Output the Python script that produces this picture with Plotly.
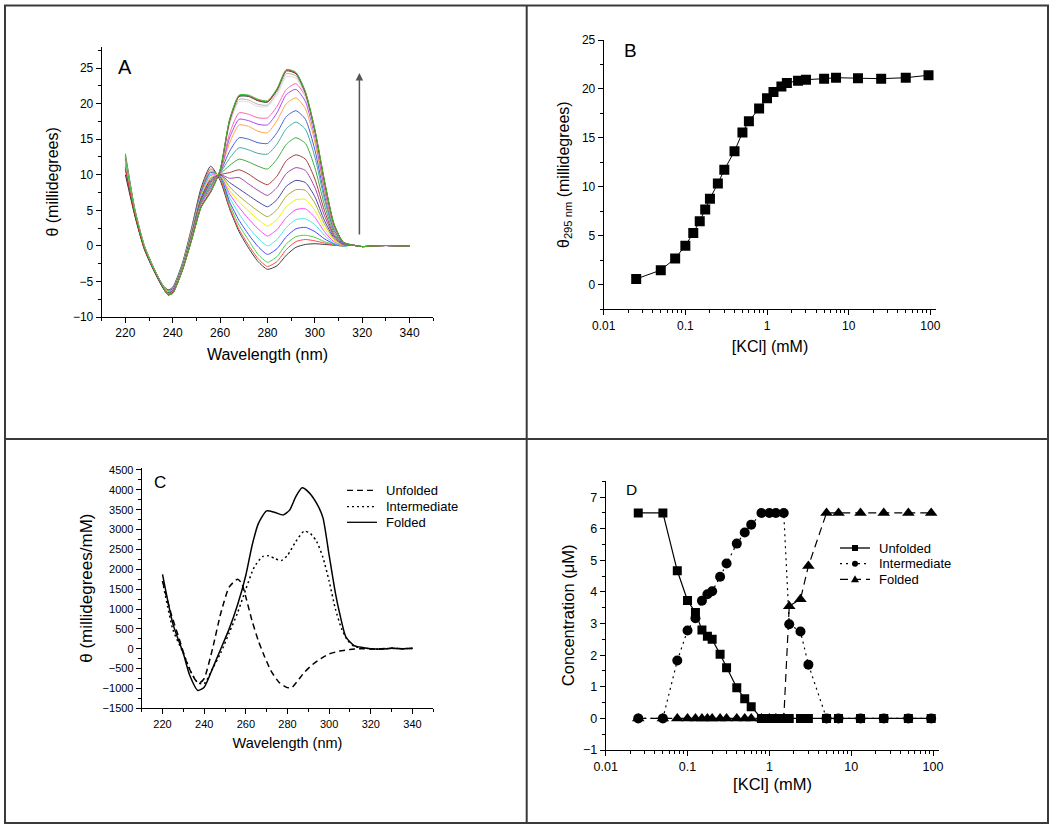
"""
CD titration figure: spectra (A, C) and KCl dependence (B, D)
"""

import plotly.graph_objects as go
from plotly.subplots import make_subplots

# ---- Panel A: CD spectra over the KCl titration ----
wl_a = [220, 224, 228, 232, 236, 238, 240, 244, 248, 252, 256, 260, 264,
        268, 272, 276, 280, 284, 288, 292, 296, 300, 304, 308, 312]
wl_a_tail = [316, 320, 325, 330, 335, 340]
theta_a_tail = [0.1, -0.1, 0.0, 0.05, 0.0, 0.0]

spectra_a = [
    [12.5, 5.0, 0.0, -3.2, -5.6, -6.2, -5.8, -2.5, 2.6, 8.2, 11.2, 9.2, 5.2, 2.0, -0.3, -2.2, -3.3, -2.8, -1.3, -0.2, 0.2, 0.3, 0.2, 0.1, 0.0],
    [12.2, 4.8, -0.2, -3.3, -5.8, -6.4, -6.0, -2.7, 2.4, 7.8, 10.8, 9.5, 5.4, 2.3, 0.1, -1.8, -2.9, -2.2, -0.5, 0.6, 0.9, 0.7, 0.4, 0.1, 0.0],
    [13.0, 5.2, 0.1, -3.1, -5.7, -6.3, -5.9, -2.6, 2.3, 7.6, 10.5, 9.7, 5.8, 2.9, 0.8, -1.2, -2.3, -1.5, 0.3, 1.3, 1.5, 1.2, 0.6, 0.2, 0.0],
    [11.0, 4.5, -0.3, -3.4, -5.9, -6.5, -6.0, -2.8, 2.2, 7.5, 10.3, 9.8, 6.2, 3.6, 1.6, -0.1, -1.2, -0.4, 1.3, 2.4, 2.6, 2.0, 1.0, 0.3, 0.0],
    [10.5, 4.3, -0.4, -3.4, -5.9, -6.6, -6.1, -2.9, 2.1, 7.3, 10.1, 9.9, 6.8, 4.5, 2.6, 1.1, 0.0, 0.9, 2.6, 3.7, 3.8, 3.0, 1.5, 0.4, 0.0],
    [11.5, 4.6, -0.2, -3.3, -5.8, -6.5, -6.1, -2.9, 2.0, 7.1, 9.9, 9.9, 7.3, 5.4, 3.8, 2.4, 1.4, 2.3, 4.0, 5.1, 5.2, 4.0, 2.0, 0.6, 0.1],
    [11.8, 4.7, -0.2, -3.3, -5.8, -6.5, -6.2, -3.0, 1.9, 7.0, 9.7, 10.0, 7.8, 6.2, 4.9, 3.7, 2.8, 3.7, 5.5, 6.5, 6.5, 5.0, 2.5, 0.8, 0.1],
    [12.0, 4.8, -0.1, -3.2, -5.8, -6.6, -6.2, -3.0, 1.8, 6.8, 9.5, 10.0, 8.3, 7.0, 5.9, 4.9, 4.1, 5.1, 7.0, 7.9, 7.8, 6.0, 3.1, 1.0, 0.1],
    [11.2, 4.5, -0.3, -3.3, -5.9, -6.6, -6.3, -3.1, 1.7, 6.7, 9.3, 10.0, 8.9, 8.0, 7.1, 6.2, 5.5, 6.5, 8.4, 9.2, 8.9, 6.9, 3.6, 1.2, 0.2],
    [11.6, 4.6, -0.2, -3.3, -5.9, -6.7, -6.3, -3.1, 1.6, 6.6, 9.1, 10.0, 9.5, 9.6, 8.7, 7.8, 7.1, 8.2, 10.2, 11.0, 10.6, 8.2, 4.3, 1.4, 0.2],
    [12.3, 4.9, -0.1, -3.2, -5.8, -6.7, -6.4, -3.2, 1.5, 6.4, 8.9, 10.0, 10.3, 10.7, 10.1, 9.2, 8.6, 9.8, 12.0, 12.8, 12.2, 9.4, 5.0, 1.6, 0.3],
    [12.8, 5.1, 0.0, -3.1, -5.8, -6.7, -6.4, -3.2, 1.4, 6.3, 8.7, 10.1, 11.3, 12.2, 11.8, 11.2, 10.8, 12.2, 14.3, 15.2, 14.4, 11.0, 5.8, 1.9, 0.3],
    [11.4, 4.6, -0.2, -3.3, -5.9, -6.8, -6.5, -3.3, 1.3, 6.2, 8.5, 10.2, 12.3, 13.8, 13.5, 13.0, 12.9, 14.3, 16.5, 17.4, 16.4, 12.5, 6.6, 2.2, 0.4],
    [11.0, 4.5, -0.3, -3.4, -5.9, -6.8, -6.5, -3.3, 1.2, 6.0, 8.3, 10.3, 13.3, 15.2, 15.0, 14.5, 14.4, 15.9, 18.2, 19.0, 17.8, 13.5, 7.2, 2.4, 0.4],
    [11.9, 4.8, -0.1, -3.3, -5.8, -6.8, -6.5, -3.3, 1.2, 5.9, 8.1, 10.4, 14.5, 17.0, 16.8, 16.1, 15.9, 17.6, 20.0, 20.8, 19.3, 14.6, 7.8, 2.6, 0.5],
    [12.1, 4.8, -0.1, -3.2, -5.8, -6.8, -6.6, -3.4, 1.1, 5.8, 8.0, 10.4, 15.2, 17.8, 17.6, 17.1, 17.0, 18.7, 21.3, 22.0, 20.3, 15.3, 8.2, 2.8, 0.5],
    [12.6, 5.0, 0.0, -3.2, -5.8, -6.8, -6.6, -3.4, 1.0, 5.7, 7.9, 10.5, 15.8, 18.7, 18.5, 18.0, 18.0, 19.6, 22.0, 22.8, 21.0, 15.8, 8.5, 2.9, 0.5],
    [12.0, 4.8, -0.1, -3.3, -5.8, -6.9, -6.6, -3.4, 1.0, 5.6, 7.8, 10.6, 17.0, 20.3, 20.2, 19.6, 19.6, 21.2, 23.8, 23.6, 21.0, 15.8, 8.9, 3.0, 0.5],
    [11.5, 4.7, -0.2, -3.3, -5.9, -6.9, -6.6, -3.4, 1.0, 5.6, 7.7, 10.6, 17.3, 20.6, 20.5, 19.9, 19.8, 21.6, 24.2, 23.9, 21.3, 16.0, 9.0, 3.0, 0.5],
    [10.0, 4.2, -0.5, -3.5, -6.0, -6.9, -6.6, -3.5, 0.9, 5.5, 7.6, 10.6, 17.6, 21.0, 21.0, 20.4, 20.2, 21.9, 24.6, 24.2, 21.5, 16.2, 9.1, 3.1, 0.5],
    [10.8, 4.4, -0.4, -3.4, -5.9, -6.9, -6.6, -3.5, 0.9, 5.5, 7.6, 10.7, 17.7, 21.1, 21.1, 20.5, 20.3, 22.0, 24.7, 24.3, 21.6, 16.3, 9.2, 3.1, 0.5],
    [12.2, 4.9, -0.1, -3.3, -5.8, -6.9, -6.7, -3.5, 0.8, 5.4, 7.5, 10.7, 17.8, 21.2, 21.2, 20.6, 20.4, 22.1, 24.8, 24.4, 21.7, 16.4, 9.3, 3.2, 0.5],
]

colors_a = ['#3c3c3c', '#ff4646', '#46d246', '#4646ff', '#46e6e6', '#ff46ff',
            '#f0f000', '#a8a838', '#4646a8', '#a846a8', '#a83c3c', '#46a846',
            '#46a8a8', '#4664d2', '#ffa446', '#a846ff', '#ff64b4', '#dcdcdc',
            '#b4b4b4', '#303030', '#e03030', '#30c030']

# ---- Panel B: ellipticity at 295 nm vs KCl ----
kcl = [0.025, 0.05, 0.075, 0.1, 0.125, 0.15, 0.175, 0.2, 0.25, 0.3, 0.4, 0.5,
       0.6, 0.8, 1.0, 1.2, 1.5, 1.75, 2.4, 3.0, 5.0, 7.0, 13.0, 25.0, 50.0, 95.0]
theta_295 = [0.6, 1.5, 2.7, 4.0, 5.3, 6.5, 7.7, 8.8, 10.35, 11.75, 13.65, 15.55,
             16.7, 18.0, 19.05, 19.7, 20.25, 20.6, 20.85, 20.95, 21.05, 21.15,
             21.1, 21.05, 21.15, 21.4]

# ---- Panel C: basis spectra (millidegrees/mM) ----
wl_c_folded = [220, 225, 230, 233, 237, 240, 244, 248, 252, 256, 260, 263, 266,
               270, 274, 278, 281, 284, 287, 290, 294, 297, 300, 303, 305, 308,
               312, 316, 320, 325, 330, 335, 340]
folded_c = [1870, 620, -120, -660, -1050, -970, -500, 0, 500, 1100, 1850, 2600,
            3150, 3470, 3430, 3370, 3490, 3830, 4050, 3950, 3660, 3300, 2350,
            1400, 900, 300, 80, 30, 0, -10, 10, 0, 10]
wl_c_inter = [220, 225, 230, 234, 237, 240, 244, 248, 252, 256, 260, 264, 268,
              271, 274, 277, 280, 284, 288, 291, 294, 297, 300, 303, 306, 309,
              312, 316, 320, 325, 330, 335, 340]
intermediate_c = [1700, 480, -120, -620, -860, -880, -500, -100, 400, 900, 1500,
                  2050, 2320, 2340, 2270, 2220, 2350, 2700, 2960, 2900, 2700,
                  2300, 1700, 1000, 500, 200, 60, 20, 0, -10, 10, 0, 10]
wl_c_unfolded = [220, 224, 228, 232, 236, 238, 240, 244, 248, 252, 256, 258, 260,
                 263, 266, 269, 272, 276, 280, 282, 285, 288, 292, 296, 300, 305,
                 310, 315, 320, 325, 330, 335, 340]
unfolded_c = [1700, 900, 250, -400, -800, -850, -750, 0, 900, 1550, 1750, 1650,
              1300, 700, 200, -200, -550, -850, -980, -980, -800, -600, -400,
              -250, -130, -60, -20, 0, -10, 0, 10, 0, 5]

# ---- Panel D: species concentrations (uM) vs KCl ----
conc_unfolded = [6.5, 6.5, 4.67, 3.73, 3.35, 2.8, 2.6, 2.5, 2.03, 1.6, 0.97,
                 0.62, 0.37, 0, 0, 0, 0, 0, 0, 0, 0, 0, 0, 0, 0, 0]
conc_intermediate = [0, 0, 1.83, 2.78, 3.17, 3.72, 3.93, 4.02, 4.48, 4.9, 5.53,
                     5.88, 6.13, 6.5, 6.5, 6.5, 6.5, 2.98, 2.75, 1.7, 0, 0, 0,
                     0, 0, 0]
conc_folded = [0, 0, 0, 0, 0, 0, 0, 0, 0, 0, 0, 0, 0, 0, 0, 0, 0, 3.55, 3.77,
               4.82, 6.5, 6.5, 6.5, 6.5, 6.5, 6.5]

species = ['Unfolded', 'Intermediate', 'Folded']

FONT = 'Liberation Sans, Arial, sans-serif'
W, H = 1050, 830
DASH_C = {'Unfolded': '6px,4px', 'Intermediate': '2px,3px', 'Folded': 'solid'}
DASH_D = {'Unfolded': 'solid', 'Intermediate': '2px,4px', 'Folded': '8px,5px'}

fig = make_subplots(rows=2, cols=2)

# A
for vals, col in zip(spectra_a, colors_a):
    fig.add_trace(
        go.Scatter(
            x=wl_a + wl_a_tail,
            y=vals + theta_a_tail,
            mode='lines',
            line=dict(color=col, width=1, shape='spline', smoothing=0.6),
            showlegend=False
        ),
        row=1, col=1
    )

# B
fig.add_trace(
    go.Scatter(
        x=kcl, y=theta_295,
        mode='lines+markers',
        line=dict(color='black', width=1),
        marker=dict(symbol='square', size=10, color='black'),
        showlegend=False
    ),
    row=1, col=2
)

# C
for name, xs, ys in zip(species,
                        [wl_c_unfolded, wl_c_inter, wl_c_folded],
                        [unfolded_c, intermediate_c, folded_c]):
    fig.add_trace(
        go.Scatter(
            x=xs, y=ys, name=name,
            mode='lines',
            line=dict(color='black', width=1.5, dash=DASH_C[name], shape='spline', smoothing=0.6),
            showlegend=False
        ),
        row=2, col=1
    )

# D  (folded first so squares and circles sit on top of it)
for name, ys, sym, size in [('Folded', conc_folded, 'triangle-up', 11),
                            ('Unfolded', conc_unfolded, 'square', 9),
                            ('Intermediate', conc_intermediate, 'circle', 10)]:
    fig.add_trace(
        go.Scatter(
            x=kcl, y=ys, name=name,
            mode='lines+markers',
            line=dict(color='black', width=1.2, dash=DASH_D[name]),
            marker=dict(symbol=sym, size=size, color='black'),
            showlegend=False
        ),
        row=2, col=2
    )


def px_x(a, b):
    return [a / W, b / W]


def px_y(top, bottom):
    return [1 - bottom / H, 1 - top / H]


axis_common = dict(
    showline=True, linecolor='black', linewidth=1,
    ticks='outside', ticklen=5, tickcolor='black', tickwidth=1,
    showgrid=False, zeroline=False, mirror=False, automargin=False,
    tickfont=dict(family=FONT, size=12, color='black'),
)

log_minor = [m * 10 ** e for e in range(-2, 3) for m in range(2, 10)]
log_minor = [v for v in log_minor if v < 118]

# A axes
fig.update_xaxes(axis_common, domain=px_x(101.7, 433.3), range=[210, 350],
                 tickmode='array', tickvals=[220, 240, 260, 280, 300, 320, 340],
                 minor=dict(tickmode='array', tickvals=[210, 230, 250, 270, 290, 310, 330, 350],
                            ticks='outside', ticklen=3, tickcolor='black'),
                 title=dict(text='Wavelength (nm)', font=dict(family=FONT, size=16, color='black'), standoff=9),
                 row=1, col=1)
fig.update_yaxes(axis_common, domain=px_y(46.7, 317), range=[-10, 28],
                 tickmode='array', tickvals=[-10, -5, 0, 5, 10, 15, 20, 25],
                 minor=dict(tickmode='array', tickvals=[-7.5, -2.5, 2.5, 7.5, 12.5, 17.5, 22.5, 27.5],
                            ticks='outside', ticklen=3, tickcolor='black'),
                 title=dict(text='θ (millidegrees)', font=dict(family=FONT, size=16, color='black'), standoff=10),
                 row=1, col=1)

# B axes
fig.update_xaxes(axis_common, type='log', domain=px_x(603.7, 936.3), range=[-2, 2.073],
                 tickmode='array', tickvals=[0.01, 0.1, 1, 10, 100],
                 ticktext=['0.01', '0.1', '1', '10', '100'],
                 minor=dict(tickmode='array', tickvals=log_minor, ticks='outside', ticklen=3, tickcolor='black'),
                 title=dict(text='[KCl] (mM)', font=dict(family=FONT, size=16, color='black'), standoff=9),
                 row=1, col=2)
fig.update_yaxes(axis_common, domain=px_y(40, 309.3), range=[-2.5, 25],
                 tickmode='array', tickvals=[0, 5, 10, 15, 20, 25],
                 minor=dict(tickmode='array', tickvals=[-2.5, 2.5, 7.5, 12.5, 17.5, 22.5],
                            ticks='outside', ticklen=3, tickcolor='black'),
                 title=dict(text='θ<sub>295 nm</sub> (millidegrees)',
                            font=dict(family=FONT, size=16, color='black'), standoff=8),
                 row=1, col=2)

# C axes
fig.update_xaxes(axis_common, domain=px_x(141.7, 433.3), range=[210, 350],
                 tickmode='array', tickvals=[220, 240, 260, 280, 300, 320, 340],
                 minor=dict(tickmode='array', tickvals=[210, 230, 250, 270, 290, 310, 330, 350],
                            ticks='outside', ticklen=3, tickcolor='black'),
                 tickfont=dict(family=FONT, size=11, color='black'),
                 title=dict(text='Wavelength (nm)', font=dict(family=FONT, size=14.5, color='black'), standoff=9),
                 row=2, col=1)
fig.update_yaxes(axis_common, domain=px_y(468, 708.3), range=[-1500, 4550],
                 tickmode='array', tickvals=list(range(-1500, 4501, 500)),
                 minor=dict(tickmode='array', tickvals=list(range(-1250, 4500, 500)),
                            ticks='outside', ticklen=3, tickcolor='black'),
                 tickfont=dict(family=FONT, size=11, color='black'),
                 title=dict(text='θ (millidegrees/mM)', font=dict(family=FONT, size=17, color='black'), standoff=5),
                 row=2, col=1)

# D axes
fig.update_xaxes(axis_common, type='log', domain=px_x(605.7, 939.3), range=[-2, 2.077],
                 tickmode='array', tickvals=[0.01, 0.1, 1, 10, 100],
                 ticktext=['0.01', '0.1', '1', '10', '100'],
                 minor=dict(tickmode='array', tickvals=log_minor, ticks='outside', ticklen=3, tickcolor='black'),
                 tickfont=dict(family=FONT, size=12.5, color='black'),
                 title=dict(text='[KCl] (mM)', font=dict(family=FONT, size=16.5, color='black'), standoff=5),
                 row=2, col=2)
fig.update_yaxes(axis_common, domain=px_y(480.7, 750), range=[-1, 7.52],
                 tickmode='array', tickvals=list(range(-1, 8)),
                 minor=dict(tickmode='array', tickvals=[-0.5, 0.5, 1.5, 2.5, 3.5, 4.5, 5.5, 6.5, 7.5],
                            ticks='outside', ticklen=3, tickcolor='black'),
                 tickfont=dict(family=FONT, size=12.5, color='black'),
                 title=dict(text='Concentration (μM)', font=dict(family=FONT, size=16.5, color='black'), standoff=4),
                 row=2, col=2)

# panel letters and the titration arrow
letter_font = dict(family=FONT, color='black')
fig.add_annotation(x=220, y=25.2, xref='x', yref='y', text='A', showarrow=False,
                   font=dict(letter_font, size=20))
fig.add_annotation(x=-1.666, y=23.9, xref='x2', yref='y2', text='B', showarrow=False,
                   font=dict(letter_font, size=19))
fig.add_annotation(x=218.6, y=4180, xref='x3', yref='y3', text='C', showarrow=False,
                   font=dict(letter_font, size=17))
fig.add_annotation(x=-1.682, y=7.25, xref='x4', yref='y4', text='D', showarrow=False,
                   font=dict(letter_font, size=15.5))
fig.add_annotation(x=318.8, y=24.3, ax=318.8, ay=1.4, xref='x', yref='y', axref='x', ayref='y',
                   text='', showarrow=True, arrowhead=2, arrowsize=1, arrowwidth=1.5,
                   arrowcolor='#555555')

# legends (C: line styles only, D: line + marker), drawn in figure pixels
def legend_entry(x_line, y_row, text, dash, marker=None):
    fig.add_shape(type='line', xref='paper', yref='paper',
                  x0=x_line / W, x1=(x_line + 30) / W, y0=1 - y_row / H, y1=1 - y_row / H,
                  line=dict(color='black', width=1.3, dash=dash))
    cx, cy = x_line + 15, y_row
    if marker == 'square':
        fig.add_shape(type='rect', xref='paper', yref='paper',
                      x0=(cx - 3) / W, x1=(cx + 3) / W, y0=1 - (cy + 3) / H, y1=1 - (cy - 3) / H,
                      fillcolor='black', line=dict(width=0))
    elif marker == 'circle':
        fig.add_shape(type='circle', xref='paper', yref='paper',
                      x0=(cx - 3) / W, x1=(cx + 3) / W, y0=1 - (cy + 3) / H, y1=1 - (cy - 3) / H,
                      fillcolor='black', line=dict(width=0))
    elif marker == 'triangle':
        fig.add_shape(type='path', xref='paper', yref='paper',
                      path='M {} {} L {} {} L {} {} Z'.format(
                          (cx - 4) / W, 1 - (cy + 3) / H, (cx + 4) / W, 1 - (cy + 3) / H,
                          cx / W, 1 - (cy - 4) / H),
                      fillcolor='black', line=dict(width=0))
    fig.add_annotation(x=(x_line + 37) / W, y=1 - y_row / H, xref='paper', yref='paper',
                       xanchor='left', yanchor='middle', text=text, showarrow=False,
                       font=dict(family=FONT, size=13, color='black'))


for name, row_y in zip(species, [490.3, 506.7, 522.3]):
    legend_entry(347, row_y, name, DASH_C[name])
for name, row_y, mk in zip(species, [548, 563.7, 579.3], ['square', 'circle', 'triangle']):
    legend_entry(840, row_y, name, DASH_D[name], mk)

# frame around the four panels
border = dict(color='#3a3a3a', width=2)
fig.add_shape(type='rect', xref='paper', yref='paper', x0=5 / W, x1=1048 / W,
              y0=1 - 823 / H, y1=1 - 5.5 / H, line=border)
fig.add_shape(type='line', xref='paper', yref='paper', x0=526.7 / W, x1=526.7 / W,
              y0=1 - 823 / H, y1=1 - 5.5 / H, line=border)
fig.add_shape(type='line', xref='paper', yref='paper', x0=5 / W, x1=1048 / W,
              y0=1 - 439 / H, y1=1 - 439 / H, line=border)

fig.update_layout(
    width=W, height=H,
    margin=dict(l=0, r=0, t=0, b=0, autoexpand=False),
    paper_bgcolor='white', plot_bgcolor='white',
    font=dict(family=FONT, color='black'),
    showlegend=False,
)

fig.write_html("out.html", config={'displayModeBar': False},
               post_script="document.body.style.margin = '0px';")
